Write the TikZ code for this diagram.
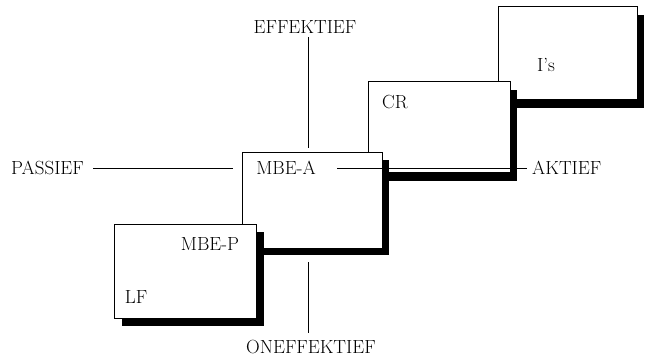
\documentclass[tikz,border=0pt]{standalone}
\begin{document}
\begin{tikzpicture}[x=1pt,y=-1pt,
  box/.style={draw=black,line width=1pt,fill=white,anchor=north west,minimum width=#1,minimum height=93pt,inner sep=0pt,outer sep=0pt},
  shadowbox/.style={fill=black,anchor=north west,minimum width=#1,minimum height=93pt,inner sep=0pt,outer sep=0pt},
  lbl/.style={font=\fontsize{19}{22}\selectfont,inner sep=0pt},
  axis/.style={line width=0.9pt}]
\useasboundingbox (0,0) rectangle (647,358);
% I's box
\node[shadowbox=139pt] (isS) at (505,15) {};
\node[box=139pt] (is) at (498,7) {};
% CR box
\node[shadowbox=142pt,minimum height=91pt] (crS) at (375,90) {};
\node[box=142pt,minimum height=91pt] (cr) at (368,82) {};
% MBE-A box
\node[shadowbox=140pt,minimum height=95pt] (mbeaS) at (249,160) {};
\node[box=140pt,minimum height=95pt] (mbea) at (242,153) {};
% LF box
\node[shadowbox=142pt,minimum height=94pt] (lfS) at (122,232) {};
\node[box=142pt,minimum height=94pt] (lf) at (114,224) {};
% texts
\node[lbl] (tis) at (546,65) {I's};
\node[lbl] (tcr) at (395,102) {CR};
\node[lbl] (tmbea) at (286,168) {MBE-A};
\node[lbl] (tmbep) at (210,244) {MBE-P};
\node[lbl] (tlf) at (136,297) {LF};
\node[lbl] (eff) at (305,27) {EFFEKTIEF};
\node[lbl] (oneff) at (311,347) {ONEFFEKTIEF};
\node[lbl,anchor=west] (pas) at (11,168) {PASSIEF};
\node[lbl,anchor=west] (akt) at (532,168) {AKTIEF};
% axis end points
\coordinate (effEnd) at (308,148);
\coordinate (effStart) at (308,37);
\coordinate (oneffStart) at (308,262);
\coordinate (oneffEnd) at (308,333);
\coordinate (pasStart) at (93,168);
\coordinate (pasEnd) at (233,168);
\coordinate (aktStart) at (337,168);
\coordinate (aktEnd) at (527,168);
% axes
\draw[axis] (effStart) -- (effEnd);
\draw[axis] (oneffStart) -- (oneffEnd);
\draw[axis] (pasStart) -- (pasEnd);
\draw[axis] (aktStart) -- (aktEnd);
\end{tikzpicture}
\end{document}
